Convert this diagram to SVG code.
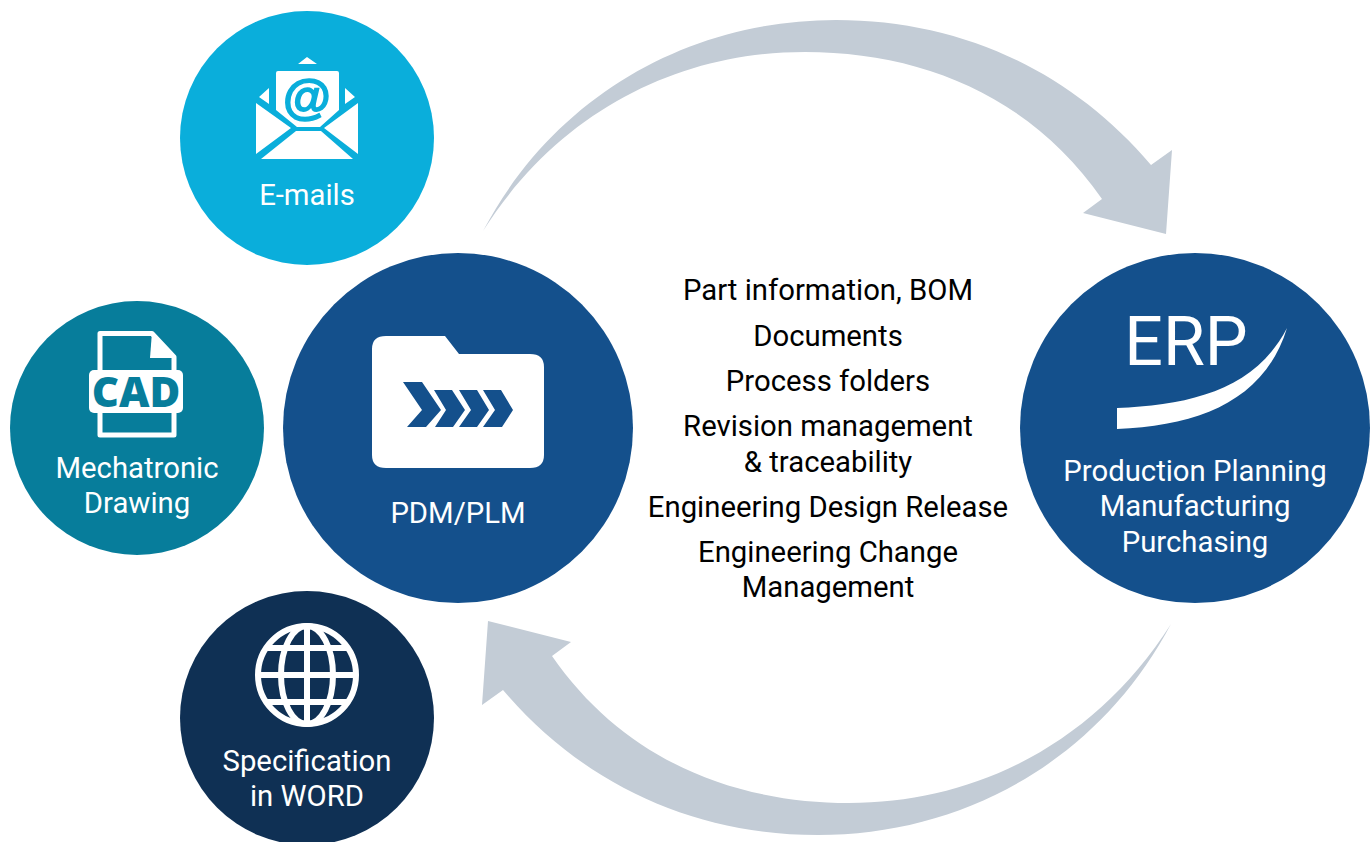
<svg xmlns="http://www.w3.org/2000/svg" width="1370" height="842" viewBox="0 0 1370 842">
<defs><path id="arc" d="M483 231C555 95 690 20 836 20C960 20 1070 70 1151 165L1172 150L1166 234L1083 213L1102 199C1030 95 920 52 805 52C680 52 560 110 483 231Z"/></defs>
<style>
.t{font-family:Roboto,"Liberation Sans",sans-serif;font-size:29.300px;text-anchor:middle}
.w{fill:#fff}
.k{fill:#000}
.a{fill:#c3ccd6}
</style>
<rect width="1370" height="842" fill="#fff"/>
<g id="connectors">
<use href="#arc" class="a"/>
<use href="#arc" class="a" transform="rotate(180 827 427.500)"/>
</g>
<g id="email"><circle cx="307" cy="138" r="127" fill="#0aaedb"/>
<path class="w" d="M298 64L307 57L317 64ZM276 73Q276 71 278 71H337Q339 71 339 73V110L320 127H297L276 110ZM269 88V104L259 97ZM345 88L355 97L345 104ZM256 103L291 128L256 154ZM358 103V154L324 128ZM261 159L296 131H321L353 159Z"/>
<text x="307" y="114" style="font-family:'Liberation Sans',sans-serif;font-size:49px;font-weight:700;text-anchor:middle;stroke:#0aaedb;stroke-width:1.500px" fill="#0aaedb">@</text>
<text class="t w" x="307" y="205">E-mails</text></g>
<g id="cad"><circle cx="137" cy="428" r="127" fill="#077d9b"/>
<path d="M100 370V333.500H152L174 357V370M174 413V435H100V413" fill="none" stroke="#fff" stroke-width="5" stroke-linejoin="round"/>
<path class="w" d="M152 332L176 358H150Z"/>
<rect class="w" x="89" y="370" width="94" height="43" rx="5"/>
<text x="136" y="407" style="font-family:'Open Sans','Liberation Sans',sans-serif;font-size:42px;font-weight:800;text-anchor:middle" fill="#077d9b">CAD</text>
<text class="t w" x="137" y="478">Mechatronic</text><text class="t w" x="137" y="513">Drawing</text></g>
<g id="word"><circle cx="307" cy="718" r="127" fill="#0f3054"/>
<g fill="none" stroke="#fff" stroke-width="6"><circle cx="307" cy="675" r="49"/><ellipse cx="307" cy="675" rx="26" ry="49"/><path d="M307 626V724M258 675H356M266 648H348M266 702H348"/></g>
<text class="t w" x="307" y="771">Specification</text><text class="t w" x="307" y="806">in WORD</text></g>
<g id="pdm"><circle cx="458" cy="428" r="175" fill="#14508c"/>
<path class="w" d="M372 349Q372 336 386 336H445L459 354H530Q544 354 544 367V455Q544 468 530 468H386Q372 468 372 455Z"/>
<path fill="#14508c" d="M403 382H422L441 410L426 427H407L422 410ZM434 390H452L465 410L453 427H435L446 410ZM459 390H477L489 410L477 427H459L471 410ZM483 390H501L513 410L502 427H483L495 410Z"/>
<text class="t w" x="458" y="523">PDM/PLM</text></g>
<g id="erp"><circle cx="1195" cy="428" r="175" fill="#14508c"/>
<text x="1186" y="365" style="font-family:Roboto,'Liberation Sans',sans-serif;font-size:68px;font-weight:400;text-anchor:middle" class="w">ERP</text>
<path class="w" d="M1117 408C1190 405 1255 390 1287 328C1265 400 1200 426 1117 429Z"/>
<text class="t w" x="1195" y="481">Production Planning</text><text class="t w" x="1195" y="516">Manufacturing</text><text class="t w" x="1195" y="552">Purchasing</text></g>
<g id="labels" class="k">
<text class="t" x="828" y="300">Part information, BOM</text>
<text class="t" x="828" y="346">Documents</text>
<text class="t" x="828" y="391">Process folders</text>
<text class="t" x="828" y="436">Revision management</text>
<text class="t" x="828" y="472">&amp; traceability</text>
<text class="t" x="828" y="517">Engineering Design Release</text>
<text class="t" x="828" y="562">Engineering Change</text>
<text class="t" x="828" y="597">Management</text>
</g>
</svg>
